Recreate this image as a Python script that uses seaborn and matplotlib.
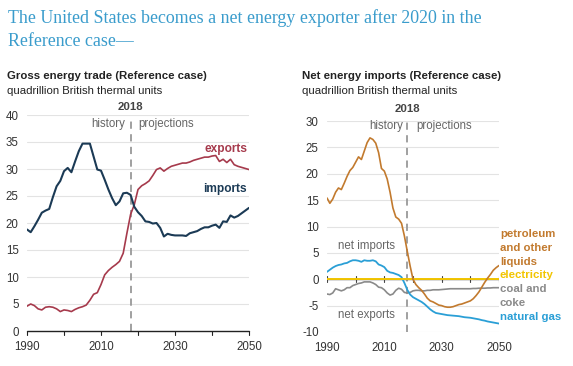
import matplotlib
matplotlib.use("Agg")
import matplotlib.pyplot as plt
import seaborn as sns
import pandas as pd

years = list(range(1990, 2051))

imports = [18.8, 18.3, 19.4, 20.6, 21.9, 22.3, 22.6, 24.8, 26.8, 27.8,
           29.6, 30.2, 29.4, 31.4, 33.3, 34.7, 34.7, 34.7, 32.3, 29.9,
           29.7, 28.0, 26.2, 24.6, 23.3, 24.0, 25.5, 25.6, 25.2, 23.0,
           22.0, 21.3, 20.3, 20.2, 19.9, 20.0, 19.1, 17.5, 18.0, 17.8,
           17.7, 17.7, 17.7, 17.6, 18.1, 18.3, 18.5, 18.9, 19.2, 19.2,
           19.5, 19.7, 19.1, 20.3, 20.2, 21.4, 21.0, 21.3, 21.8, 22.3, 22.8]

exports = [4.6, 5.0, 4.7, 4.1, 3.9, 4.4, 4.5, 4.4, 4.1, 3.6,
           3.9, 3.8, 3.6, 4.0, 4.3, 4.5, 4.8, 5.7, 6.8, 7.1,
           8.6, 10.4, 11.2, 11.8, 12.3, 12.9, 14.4, 18.1, 21.6, 23.4,
           26.2, 26.9, 27.3, 27.8, 28.8, 29.9, 30.2, 29.6, 30.1, 30.5,
           30.7, 30.9, 31.1, 31.1, 31.3, 31.6, 31.8, 32.0, 32.2, 32.2,
           32.4, 32.5, 31.4, 31.8, 31.2, 31.8, 30.8, 30.5, 30.3, 30.1, 29.9]

petroleum = [15.4, 14.4, 15.2, 16.5, 17.3, 17.0, 18.2, 19.5, 20.6, 21.2,
             22.2, 23.2, 22.7, 24.3, 25.9, 26.8, 26.5, 25.8, 24.0, 21.0,
             20.5, 19.0, 16.5, 13.5, 11.8, 11.4, 10.6, 8.2, 5.3, 2.5,
             0.0, -1.0, -1.6, -2.1, -2.8, -3.6, -4.1, -4.3, -4.6, -4.9,
             -5.0, -5.2, -5.3, -5.3, -5.2, -5.0, -4.8, -4.7, -4.5, -4.3,
             -4.1, -3.7, -3.1, -2.4, -1.5, -0.6, 0.2, 0.9, 1.7, 2.2, 2.6]

natural_gas = [1.4, 1.8, 2.2, 2.5, 2.7, 2.8, 3.0, 3.1, 3.4, 3.6,
               3.6, 3.5, 3.3, 3.6, 3.5, 3.5, 3.6, 3.4, 2.8, 2.6,
               2.3, 1.6, 1.3, 1.2, 1.0, 0.8, 0.4, -0.7, -2.0, -2.9,
               -3.4, -3.7, -4.0, -4.3, -4.7, -5.2, -5.7, -6.1, -6.4, -6.5,
               -6.6, -6.7, -6.8, -6.85, -6.9, -6.95, -7.0, -7.1, -7.2, -7.25,
               -7.3, -7.4, -7.5, -7.6, -7.75, -7.85, -8.0, -8.1, -8.2, -8.3, -8.4]

coal = [-2.8, -2.9, -2.6, -1.8, -2.0, -2.2, -2.0, -1.6, -1.6, -1.2,
        -1.0, -0.8, -0.7, -0.5, -0.5, -0.5, -0.7, -1.0, -1.5, -1.6,
        -2.0, -2.6, -3.0, -2.8, -2.1, -1.7, -1.9, -2.5, -2.6, -2.5,
        -2.2, -2.1, -2.1, -2.2, -2.2, -2.1, -2.1, -2.0, -2.0, -2.0,
        -1.95, -1.9, -1.85, -1.8, -1.8, -1.8, -1.8, -1.8, -1.8, -1.8,
        -1.8, -1.75, -1.75, -1.7, -1.7, -1.7, -1.65, -1.65, -1.6, -1.6, -1.6]

elec_years = [1990, 2000, 2010, 2020, 2030, 2040, 2050]
electricity = [0.0, 0.0, 0.0, 0.0, 0.0, 0.0, 0.0]

split_year = 2018
x_ticks = [1990, 2000, 2010, 2020, 2030, 2040, 2050]
x_labels = ["1990", "", "2010", "", "2030", "", "2050"]
left_yticks = [0, 5, 10, 15, 20, 25, 30, 35, 40]
right_yticks = [-10, -5, 0, 5, 10, 15, 20, 25, 30]

title = "The United States becomes a net energy exporter after 2020 in the\nReference case\u2014"
left_title = "Gross energy trade (Reference case)"
right_title = "Net energy imports (Reference case)"
unit = "quadrillion British thermal units"

C_IMP = "#1b3a55"
C_EXP = "#a63a4c"
C_PET = "#c27a2e"
C_GAS = "#2a9fd6"
C_COAL = "#8a8a8a"
C_ELEC = "#f2c500"
C_TITLE = "#3a9ccc"
C_TXT = "#333333"
C_GRID = "#e3e3e3"

sns.set_style("white")
plt.rcParams["font.family"] = ["Liberation Sans", "DejaVu Sans"]

W, H = 573, 366
fig = plt.figure(figsize=(W / 100, H / 100), dpi=100)

def ax_rect(x0, x1, ytop, ybot):
    return [x0 / W, 1 - ybot / H, (x1 - x0) / W, (ybot - ytop) / H]

axL = fig.add_axes(ax_rect(27, 249, 115, 331))
axR = fig.add_axes(ax_rect(327, 499, 121, 332))

df_left = pd.DataFrame({"year": years, "imports": imports, "exports": exports})
df_right = pd.DataFrame({"year": years, "petroleum": petroleum,
                         "natural_gas": natural_gas, "coal": coal})
df_elec = pd.DataFrame({"year": elec_years, "electricity": electricity})

FS = 8.2

def style_axis(ax, ylim, yticks, zero_y):
    ax.set_xlim(1990, 2050)
    ax.set_ylim(*ylim)
    ax.set_yticks(yticks)
    ax.set_yticklabels([str(v) for v in yticks])
    ax.set_xticks(x_ticks)
    ax.set_xticklabels(x_labels)
    for s in ["left", "right", "top", "bottom"]:
        ax.spines[s].set_visible(False)
    ax.grid(False)
    for v in yticks:
        if v != zero_y:
            ax.axhline(v, color=C_GRID, lw=0.8, zorder=0)
    ax.tick_params(axis="y", length=0, labelsize=8.3, colors=C_TXT, pad=6)
    ax.tick_params(axis="x", length=0, labelsize=8.3, colors=C_TXT, pad=7.5)

# Left panel
style_axis(axL, (0, 40), left_yticks, 0)
axL.axhline(0, color="#222222", lw=1.0, zorder=3, clip_on=False)
for xt in x_ticks:
    axL.plot([xt, xt], [0, -0.7], color="#222222", lw=0.8, clip_on=False, zorder=3)
axL.plot([split_year, split_year], [0, 39.5], color="#999999", lw=1.3,
         dashes=(4, 3), zorder=2, clip_on=False)
sns.lineplot(data=df_left, x="year", y="exports", ax=axL, color=C_EXP, lw=1.2, zorder=4)
sns.lineplot(data=df_left, x="year", y="imports", ax=axL, color=C_IMP, lw=1.5, zorder=5)
axL.set_xlabel(""); axL.set_ylabel("")
axL.text(split_year, 41.5, "2018", ha="center", va="center", fontsize=FS,
         fontweight="bold", color="#444444", clip_on=False)
axL.text(split_year - 1.5, 38.3, "history", ha="right", va="center", fontsize=8.3, color="#666666")
axL.text(split_year + 2.0, 38.3, "projections", ha="left", va="center", fontsize=8.3, color="#666666")
axL.text(2049.5, 33.7, "exports", ha="right", va="center", fontsize=8.6,
         fontweight="bold", color=C_EXP)
axL.text(2049.5, 26.3, "imports", ha="right", va="center", fontsize=8.6,
         fontweight="bold", color=C_IMP)

# Right panel
style_axis(axR, (-10, 30), right_yticks, 0)
axR.axhline(0, color="#444444", lw=1.0, zorder=3)
for xt in x_ticks:
    axR.plot([xt, xt], [-0.6, 0.6], color="#444444", lw=0.8, zorder=3)
axR.plot([split_year, split_year], [-10, 30], color="#999999", lw=1.3,
         dashes=(4, 3), zorder=2, clip_on=False)
sns.lineplot(data=df_right, x="year", y="coal", ax=axR, color=C_COAL, lw=1.2, zorder=4)
sns.lineplot(data=df_right, x="year", y="natural_gas", ax=axR, color=C_GAS, lw=1.3, zorder=4)
sns.lineplot(data=df_elec, x="year", y="electricity", ax=axR, color=C_ELEC, lw=1.4, zorder=5)
sns.lineplot(data=df_right, x="year", y="petroleum", ax=axR, color=C_PET, lw=1.2, zorder=6)
axR.set_xlabel(""); axR.set_ylabel("")
axR.text(split_year, 32.3, "2018", ha="center", va="center", fontsize=FS,
         fontweight="bold", color="#444444", clip_on=False)
axR.text(split_year - 1.5, 29.05, "history", ha="right", va="center", fontsize=8.3, color="#666666")
axR.text(split_year + 3.0, 29.05, "projections", ha="left", va="center", fontsize=8.3, color="#666666")
axR.text(1994, 6.3, "net imports", ha="left", va="center", fontsize=8.3, color="#666666")
axR.text(1994, -6.8, "net exports", ha="left", va="center", fontsize=8.3, color="#666666")

lab_x = 2050.3
rows = [("petroleum", 8.5, C_PET), ("and other", 5.85, C_PET), ("liquids", 3.2, C_PET),
        ("electricity", 0.75, C_ELEC), ("coal and", -1.9, C_COAL), ("coke", -4.55, C_COAL),
        ("natural gas", -7.2, C_GAS)]
for txt, yv, col in rows:
    axR.text(lab_x, yv, txt, ha="left", va="center", fontsize=FS,
             fontweight="bold", color=col, clip_on=False)

# Titles
fig.text(8 / W, 1 - 18 / H, title.split("\n")[0], ha="left", va="center", fontsize=12.9,
         family=["Liberation Serif", "DejaVu Serif"], color=C_TITLE)
fig.text(8 / W, 1 - 42 / H, title.split("\n")[1], ha="left", va="center", fontsize=12.9,
         family=["Liberation Serif", "DejaVu Serif"], color=C_TITLE)
fig.text(7 / W, 1 - 76 / H, left_title, ha="left", va="center", fontsize=FS,
         fontweight="bold", color="#222222")
fig.text(7 / W, 1 - 91 / H, unit, ha="left", va="center", fontsize=FS, color="#222222")
fig.text(302 / W, 1 - 76 / H, right_title, ha="left", va="center", fontsize=FS,
         fontweight="bold", color="#222222")
fig.text(302 / W, 1 - 91 / H, unit, ha="left", va="center", fontsize=FS, color="#222222")

fig.savefig("out.png", dpi=100)
